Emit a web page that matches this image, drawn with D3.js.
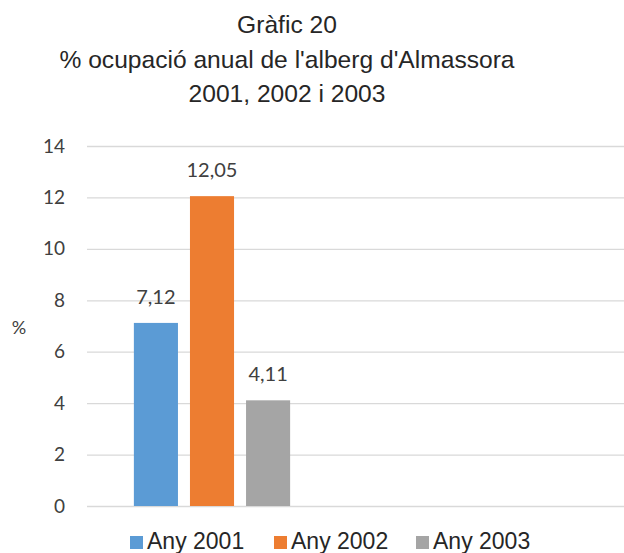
<!DOCTYPE html>
<html>
<head>
<meta charset="utf-8">
<script src="https://cdn.jsdelivr.net/npm/d3@7"></script>
<style>
  body { margin: 0; background: #fff; }
  svg { display: block; }
</style>
</head>
<body>
<script>
const width = 624;
const height = 553;

const titleLines = ['Gràfic 20', '% ocupació anual de l\'alberg d\'Almassora', '2001, 2002 i 2003'];
const categories = ['Ocupació'];
const series = ['Any 2001', 'Any 2002', 'Any 2003'];
const values = [7.12, 12.05, 4.11];
const colours = ['#5b9bd5', '#ed7d31', '#a5a5a5'];
const yTicks = [0, 2, 4, 6, 8, 10, 12, 14];

const plot = { left: 87, right: 624, top: 146, bottom: 506 };
const labelFont = 'Lato, "Open Sans", sans-serif';
const titleFont = '"Liberation Sans", Arial, sans-serif';

const svg = d3.select('body').append('svg')
    .attr('width', width)
    .attr('height', height);

// title
svg.append('g')
  .selectAll('text')
  .data(titleLines)
  .join('text')
    .attr('x', 287)
    .attr('y', (d, i) => 33 + i * 34.5)
    .attr('text-anchor', 'middle')
    .attr('font-family', titleFont)
    .attr('font-size', 24.6)
    .attr('fill', '#262626')
    .text((d) => d);

const y = d3.scaleLinear()
    .domain([0, 14])
    .range([plot.bottom, plot.top]);

const xGroup = d3.scaleBand()
    .domain(categories)
    .range([plot.left, plot.left + 250])
    .paddingInner(0)
    .paddingOuter(0.3);

const xSeries = d3.scaleBand()
    .domain(series)
    .range([0, xGroup.bandwidth()])
    .paddingInner(0.214)
    .paddingOuter(0);

// grid lines + tick labels
const yAxis = d3.axisLeft(y)
    .tickValues(yTicks)
    .tickSize(-(plot.right - plot.left))
    .tickPadding(22)
    .tickFormat(d3.format('d'));

const axisG = svg.append('g')
    .attr('transform', `translate(${plot.left},0)`)
    .call(yAxis);

axisG.select('.domain').remove();
axisG.selectAll('.tick line')
    .attr('stroke', '#d9d9d9')
    .attr('stroke-width', 1.3);
axisG.selectAll('.tick text')
    .attr('font-family', labelFont)
    .attr('font-size', 19)
    .attr('fill', '#404040');

svg.append('text')
    .attr('x', 19)
    .attr('y', 334)
    .attr('text-anchor', 'middle')
    .attr('font-family', labelFont)
    .attr('font-size', 18)
    .attr('fill', '#404040')
    .text('%');

// bars
const group = svg.append('g')
    .attr('transform', `translate(${xGroup(categories[0])},0)`);

group.selectAll('rect')
  .data(series)
  .join('rect')
    .attr('x', (d) => xSeries(d))
    .attr('width', xSeries.bandwidth())
    .attr('y', (d, i) => y(values[i]))
    .attr('height', (d, i) => y(0) - y(values[i]))
    .attr('fill', (d, i) => colours[i]);

group.selectAll('text.label')
  .data(series)
  .join('text')
    .attr('class', 'label')
    .attr('x', (d) => xSeries(d) + xSeries.bandwidth() / 2)
    .attr('y', (d, i) => y(values[i]) - 19)
    .attr('text-anchor', 'middle')
    .attr('font-family', labelFont)
    .attr('font-size', 20)
    .attr('fill', '#404040')
    .text((d, i) => d3.format('.2f')(values[i]).replace('.', ','));

// legend
const legendX = [130, 274, 416];
const legend = svg.append('g')
  .selectAll('g')
  .data(series)
  .join('g')
    .attr('transform', (d, i) => `translate(${legendX[i]},549)`);

legend.append('rect')
    .attr('x', 0)
    .attr('y', -13)
    .attr('width', 13)
    .attr('height', 13)
    .attr('fill', (d, i) => colours[i]);

legend.append('text')
    .attr('x', 17)
    .attr('y', 0)
    .attr('font-family', titleFont)
    .attr('font-size', 23)
    .attr('fill', '#262626')
    .text((d) => d);
</script>
</body>
</html>
